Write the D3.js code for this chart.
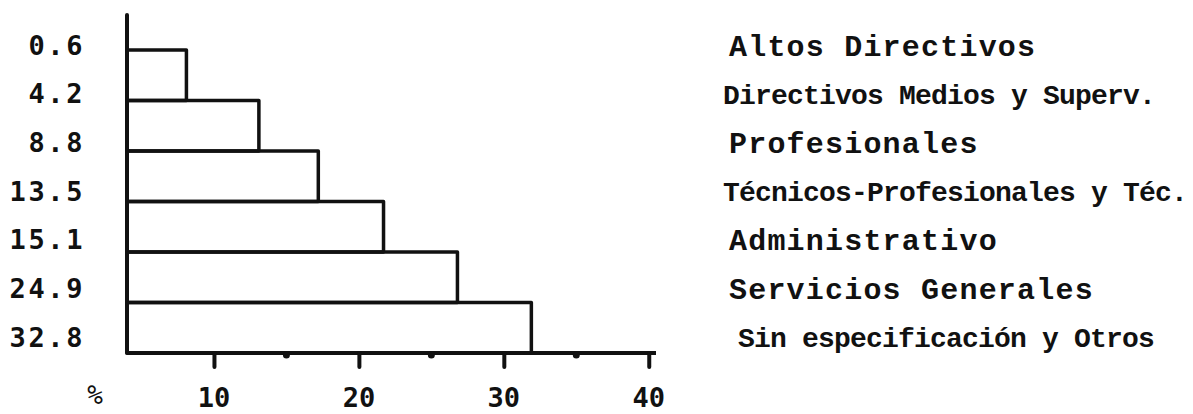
<!DOCTYPE html>
<html>
<head>
<meta charset="utf-8">
<script src="https://cdn.jsdelivr.net/npm/d3@7"></script>
<style>
  html, body { margin: 0; padding: 0; background: #fff; }
  svg { display: block; }
</style>
</head>
<body>
<svg id="chart" width="1193" height="414"></svg>
<script>
// ---- data ----
const categories = [
  "Altos Directivos",
  "Directivos Medios y Superv.",
  "Profesionales",
  "Técnicos-Profesionales y Téc.",
  "Administrativo",
  "Servicios Generales",
  "Sin especificación y Otros"
];
const values = [0.6, 4.2, 8.8, 13.5, 15.1, 24.9, 32.8];
const valueLabels = ["0.6", "4.2", "8.8", "13.5", "15.1", "24.9", "32.8"];
// where each drawn step ends (first six levels)
const stepEnds = [8.1, 13.1, 17.2, 21.7, 26.8, 31.9];
const tickValues = [10, 20, 30, 40];
const tickLabels = ["10", "20", "30", "40"];
const dotValues = [15, 25, 35];
const unitLabel = "%";

// ---- layout ----
const svg = d3.select("#chart");
const axisLeft = 127, axisRight = 656, axisTop = 15, baseY = 353;
const x = d3.scaleLinear().domain([4, 40.5]).range([axisLeft, axisRight]);
const yLevel = d3.scalePoint().domain(categories).range([50, baseY]);
const yLabel = d3.scalePoint().domain(categories).range([45, 337]);

const ink = "#111";
const lw = 3.5;

// steps (rectangles)
const steps = categories.slice(0, stepEnds.length).map((c, i) => ({
  cat: c, next: categories[i + 1], end: stepEnds[i]
}));
svg.append("g").selectAll("rect").data(steps).join("rect")
  .attr("x", x(x.domain()[0]))
  .attr("y", d => yLevel(d.cat))
  .attr("width", d => x(d.end) - x(x.domain()[0]))
  .attr("height", d => yLevel(d.next) - yLevel(d.cat))
  .attr("fill", "none")
  .attr("stroke", ink)
  .attr("stroke-width", lw)
  .attr("stroke-linejoin", "round");

// vertical axis
svg.append("line")
  .attr("x1", axisLeft).attr("x2", axisLeft)
  .attr("y1", axisTop).attr("y2", baseY)
  .attr("stroke", ink).attr("stroke-width", lw + 0.5).attr("stroke-linecap", "round");

// bottom axis via d3.axisBottom
const xAxis = d3.axisBottom(x).tickValues(tickValues).tickSize(14).tickFormat("");
const gx = svg.append("g").attr("transform", `translate(0,${baseY})`).call(xAxis);
gx.select(".domain").attr("stroke", ink).attr("stroke-width", lw + 0.5)
  .attr("d", `M${axisLeft},0H${axisRight}`);
gx.selectAll(".tick line").attr("stroke", ink).attr("stroke-width", lw + 0.5)
  .attr("stroke-linecap", "round");

// small dots on the axis
svg.append("g").selectAll("circle").data(dotValues).join("circle")
  .attr("cx", d => x(d)).attr("cy", baseY + 2).attr("r", 3.5).attr("fill", ink);

// tick labels
svg.append("g").selectAll("text").data(tickValues).join("text")
  .attr("x", d => x(d))
  .attr("y", 407)
  .attr("text-anchor", "middle")
  .attr("font-family", "DejaVu Sans Mono")
  .attr("font-weight", "bold")
  .attr("font-size", 27)
  .attr("fill", ink)
  .text((d, i) => tickLabels[i]);
svg.append("text")
  .attr("x", 95).attr("y", 404)
  .attr("text-anchor", "middle")
  .attr("font-family", "DejaVu Sans Mono")
  .attr("font-size", 26)
  .attr("fill", ink)
  .text(unitLabel);

// value labels on the left
svg.append("g").selectAll("text").data(categories).join("text")
  .attr("x", 85)
  .attr("y", d => yLabel(d))
  .attr("dy", "0.36em")
  .attr("text-anchor", "end")
  .attr("font-family", "DejaVu Sans Mono")
  .attr("font-weight", "bold")
  .attr("font-size", 27)
  .attr("letter-spacing", 2.6)
  .attr("fill", ink)
  .text((d, i) => valueLabels[i]);

// category labels on the right
const widePitch = new Set(["Altos Directivos", "Profesionales", "Administrativo", "Servicios Generales"]);
svg.append("g").selectAll("text").data(categories).join("text")
  .attr("x", d => d === "Sin especificación y Otros" ? 738 : (widePitch.has(d) ? 729 : 723))
  .attr("y", d => yLabel(d))
  .attr("dy", "0.36em")
  .attr("font-family", "Liberation Mono")
  .attr("font-weight", "bold")
  .attr("font-size", d => widePitch.has(d) ? 30 : 28)
  .attr("letter-spacing", d => widePitch.has(d) ? 1.2 : -0.8)
  .attr("fill", ink)
  .text(d => d);
</script>
</body>
</html>
